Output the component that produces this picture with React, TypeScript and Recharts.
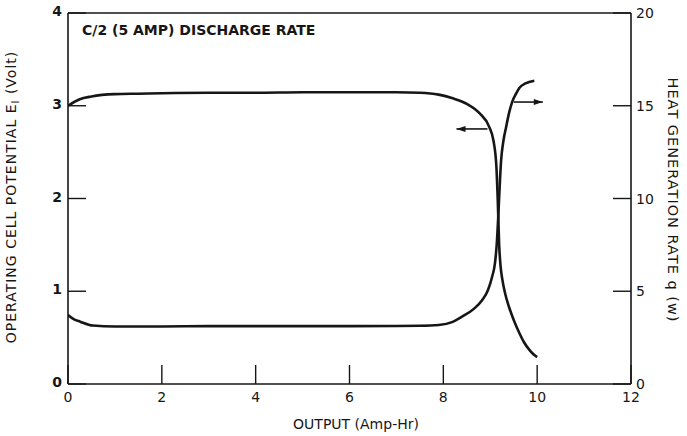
import { Line, LineChart, ReferenceLine, XAxis, YAxis } from "recharts";

// cell potential E (left axis, Volt) vs output (Amp-Hr)
const voltX = [0, 0.25, 0.5, 1, 1.5, 2, 3, 4, 5, 6, 7, 7.5, 7.9, 8.2, 8.5, 8.77, 8.98, 9.07, 9.13, 9.16, 9.19, 9.22, 9.26, 9.32, 9.4, 9.5, 9.62, 9.72, 9.83, 9.92, 10.0];
const voltE = [3.0, 3.07, 3.1, 3.125, 3.13, 3.135, 3.14, 3.14, 3.145, 3.145, 3.145, 3.14, 3.12, 3.08, 3.02, 2.92, 2.77, 2.62, 2.35, 1.98, 1.5, 1.27, 1.12, 0.97, 0.83, 0.69, 0.55, 0.45, 0.37, 0.32, 0.29];

// heat generation rate q (right axis, W) vs output
const heatX = [0, 0.12, 0.26, 0.53, 1.0, 1.5, 2, 3, 4, 5, 6, 7, 7.5, 7.9, 8.2, 8.4, 8.65, 8.83, 8.95, 9.04, 9.1, 9.14, 9.17, 9.2, 9.23, 9.28, 9.34, 9.4, 9.47, 9.55, 9.62, 9.75, 9.94];
const heatQ = [3.72, 3.5, 3.36, 3.15, 3.1, 3.1, 3.1, 3.12, 3.12, 3.12, 3.12, 3.13, 3.14, 3.18, 3.35, 3.63, 4.05, 4.53, 5.05, 5.78, 6.5, 7.6, 9.0, 10.6, 12.0, 13.1, 13.87, 14.6, 15.22, 15.65, 15.96, 16.2, 16.35];

const xTicks = [0, 2, 4, 6, 8, 10, 12];
const leftTicks = [0, 1, 2, 3, 4];
const rightTicks = [0, 5, 10, 15, 20];

const INK = "#161616";
const FONT = "'DejaVu Sans', sans-serif";

const voltData = voltX.map((x, i) => ({ x, e: voltE[i] }));
const heatData = heatX.map((x, i) => ({ x, q: heatQ[i] }));

function BottomTick({ x, y, payload }: any) {
  return (
    <g>
      <line x1={x} y1={y} x2={x} y2={y - 19} stroke={INK} strokeWidth={1.4} />
      <text x={x} y={y + 18} textAnchor="middle" fontSize={14} fill={INK} fontFamily={FONT}>
        {payload.value}
      </text>
    </g>
  );
}

function LeftTick({ x, y, payload }: any) {
  return (
    <g>
      <line x1={x} y1={y} x2={x + 18} y2={y} stroke={INK} strokeWidth={1.4} />
      <text x={x - 6} y={y + 3} textAnchor="end" fontSize={14} fontWeight="bold" fill={INK} fontFamily={FONT}>
        {payload.value}
      </text>
    </g>
  );
}

function RightTick({ x, y, payload }: any) {
  return (
    <g>
      <line x1={x} y1={y} x2={x - 18} y2={y} stroke={INK} strokeWidth={1.4} />
      <text x={x + 5} y={y + 5} textAnchor="start" fontSize={14} fill={INK} fontFamily={FONT}>
        {payload.value}
      </text>
    </g>
  );
}

function Arrow(props: any) {
  const { x1, y1, x2, y2 } = props;
  const dir = x2 > x1 ? 1 : -1;
  return (
    <g>
      <line x1={x1} y1={y1} x2={x2} y2={y2} stroke={INK} strokeWidth={1.6} />
      <polygon points={`${x2},${y2} ${x2 - dir * 9},${y2 - 3} ${x2 - dir * 9},${y2 + 3}`} fill={INK} />
    </g>
  );
}

export default function App() {
  return (
    <div style={{ position: "absolute", left: 0, top: 0, background: "#fff" }}>
      <LineChart width={687} height={436} margin={{ top: 13, right: 16, left: 28, bottom: 22 }}>
        <XAxis
          type="number"
          dataKey="x"
          domain={[0, 12]}
          ticks={xTicks}
          tickSize={0}
          tickMargin={0}
          height={30}
          stroke={INK}
          strokeWidth={1.6}
          tick={<BottomTick />}
          allowDataOverflow
        />
        <YAxis
          yAxisId="left"
          domain={[0, 4]}
          ticks={leftTicks}
          tickSize={0}
          tickMargin={0}
          width={40}
          stroke={INK}
          strokeWidth={1.6}
          tick={<LeftTick />}
        />
        <YAxis
          yAxisId="right"
          orientation="right"
          domain={[0, 20]}
          ticks={rightTicks}
          tickSize={0}
          tickMargin={0}
          width={40}
          stroke={INK}
          strokeWidth={1.6}
          tick={<RightTick />}
        />
        <ReferenceLine yAxisId="left" y={4} stroke={INK} strokeWidth={1.6} />
        <Line
          yAxisId="left"
          data={voltData}
          dataKey="e"
          type="monotone"
          stroke={INK}
          strokeWidth={2.6}
          dot={false}
          isAnimationActive={false}
        />
        <Line
          yAxisId="right"
          data={heatData}
          dataKey="q"
          type="monotone"
          stroke={INK}
          strokeWidth={2.6}
          dot={false}
          isAnimationActive={false}
        />
        <ReferenceLine
          yAxisId="left"
          segment={[{ x: 8.94, y: 2.75 }, { x: 8.28, y: 2.75 }]}
          shape={<Arrow />}
        />
        <ReferenceLine
          yAxisId="right"
          segment={[{ x: 9.5, y: 15.2 }, { x: 10.12, y: 15.2 }]}
          shape={<Arrow />}
        />
        <text x={82} y={35} fontSize={14} fontWeight="bold" fill={INK} fontFamily={FONT}>
          C/2 (5 AMP) DISCHARGE RATE
        </text>
        <text
          x={16}
          y={197}
          transform="rotate(-90 16 197)"
          textAnchor="middle"
          fontSize={14}
          letterSpacing={1}
          fill={INK}
          fontFamily={FONT}
        >
          OPERATING CELL POTENTIAL E
          <tspan fontSize={10} dy={3}>I</tspan>
          <tspan dy={-3}> (Volt)</tspan>
        </text>
        <text
          x={668}
          y={200}
          transform="rotate(90 668 200)"
          textAnchor="middle"
          fontSize={14.5}
          letterSpacing={1}
          fill={INK}
          fontFamily={FONT}
        >
          HEAT GENERATION RATE q (w)
        </text>
        <text x={356} y={429} textAnchor="middle" fontSize={14} fill={INK} fontFamily={FONT}>
          OUTPUT (Amp-Hr)
        </text>
      </LineChart>
    </div>
  );
}
